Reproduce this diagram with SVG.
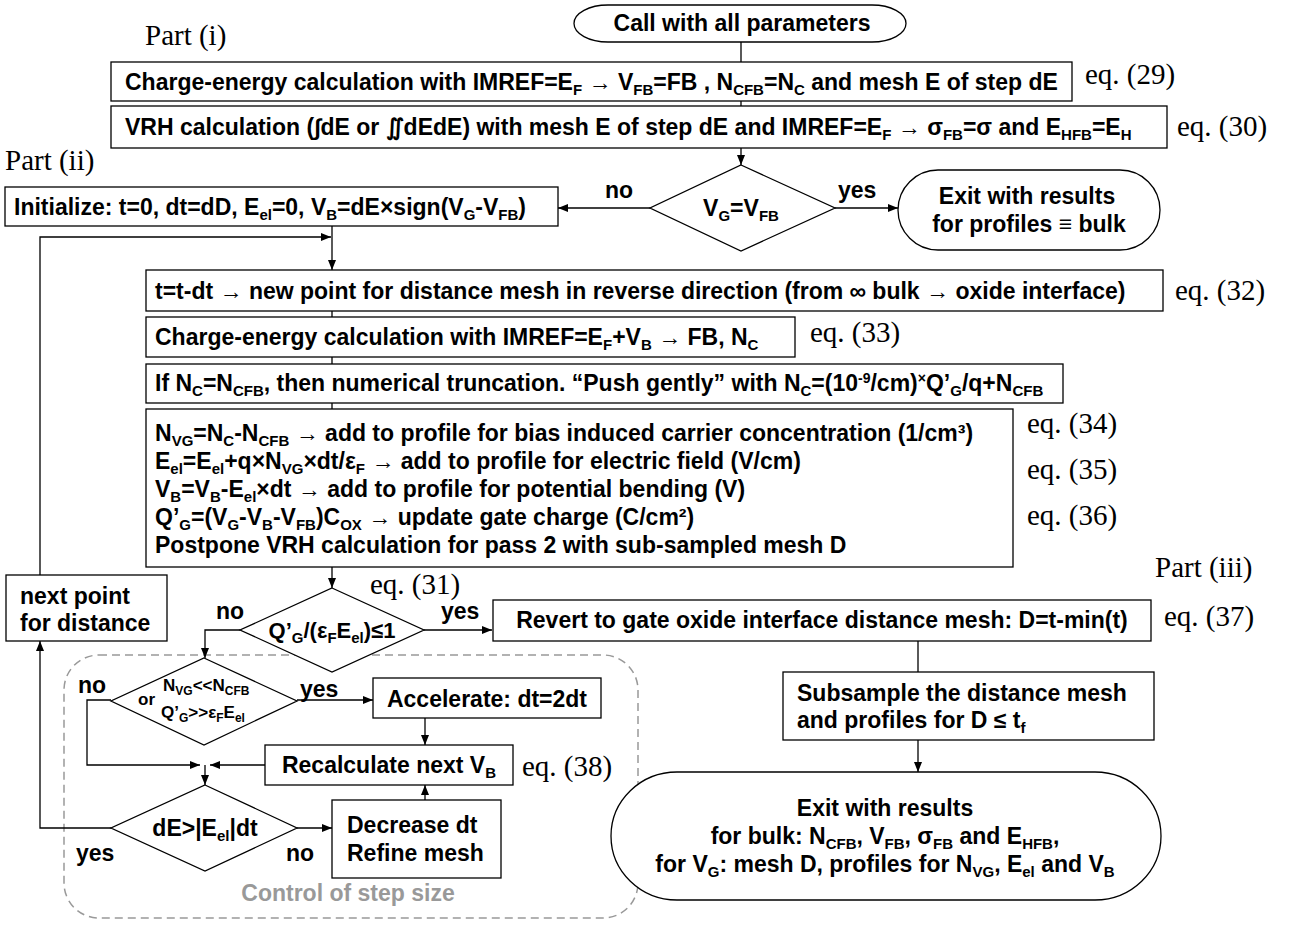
<svg xmlns="http://www.w3.org/2000/svg" width="1290" height="925" viewBox="0 0 1290 925">
<style>
text{font-family:"Liberation Sans",Arial,sans-serif;font-weight:bold;font-size:23px;fill:#000}
.s{font-size:15px;baseline-shift:-5px}
.p{font-size:14px;baseline-shift:8px}
.eq{font-family:"Liberation Serif","Times New Roman",serif;font-weight:normal;font-size:29px}
.m{text-anchor:middle}
.sm{font-size:17px}
.sm .s{font-size:12px;baseline-shift:-4px}
.md{font-size:22px}
.box{fill:#fff;stroke:#000;stroke-width:1.3}
.cn{fill:none;stroke:#000;stroke-width:1.3}
.gray{fill:#999}
</style>
<defs>
<marker id="ah" markerUnits="userSpaceOnUse" markerWidth="10" markerHeight="8" refX="10" refY="4" orient="auto">
<path d="M0,0 L10,4 L0,8 z" fill="#000"/>
</marker>
</defs>
<rect width="1290" height="925" fill="#fff"/>

<g id="labels">
<text class="eq" x="145" y="45">Part (i)</text>
<text class="eq" x="5" y="170">Part (ii)</text>
<text class="eq" x="1155" y="577">Part (iii)</text>
<text class="eq" x="1085" y="84">eq. (29)</text>
<text class="eq" x="1177" y="136">eq. (30)</text>
<text class="eq" x="1175" y="300">eq. (32)</text>
<text class="eq" x="810" y="342">eq. (33)</text>
<text class="eq" x="1027" y="433">eq. (34)</text>
<text class="eq" x="1027" y="479">eq. (35)</text>
<text class="eq" x="1027" y="525">eq. (36)</text>
<text class="eq" x="370" y="594">eq. (31)</text>
<text class="eq" x="1164" y="626">eq. (37)</text>
<text class="eq" x="522" y="776">eq. (38)</text>
<text x="605" y="198">no</text>
<text x="838" y="198">yes</text>
<text x="216" y="619">no</text>
<text x="441" y="619">yes</text>
<text x="78" y="693">no</text>
<text x="300" y="697">yes</text>
<text x="76" y="861">yes</text>
<text x="286" y="861">no</text>
</g>

<g id="step-size-region">
<rect x="64" y="655" width="574" height="263" rx="35" ry="35" fill="none" stroke="#999" stroke-width="1.5" stroke-dasharray="8,5"/>
<text class="m gray" x="348" y="901">Control of step size</text>
</g>

<g id="connectors">
<line class="cn" x1="741" y1="42" x2="741" y2="62"/>
<line class="cn" x1="741" y1="101" x2="741" y2="106"/>
<line class="cn" x1="741" y1="148" x2="741" y2="165" marker-end="url(#ah)"/>
<line class="cn" x1="650" y1="208" x2="558" y2="208" marker-end="url(#ah)"/>
<line class="cn" x1="835" y1="208" x2="898" y2="208" marker-end="url(#ah)"/>
<line class="cn" x1="332" y1="226" x2="332" y2="270" marker-end="url(#ah)"/>
<polyline class="cn" points="40,575 40,237 331,237" marker-end="url(#ah)"/>
<line class="cn" x1="332" y1="311" x2="332" y2="317"/>
<line class="cn" x1="332" y1="357" x2="332" y2="364"/>
<line class="cn" x1="332" y1="403" x2="332" y2="409"/>
<line class="cn" x1="332" y1="567" x2="332" y2="588" marker-end="url(#ah)"/>
<line class="cn" x1="424" y1="630" x2="492" y2="630" marker-end="url(#ah)"/>
<polyline class="cn" points="240,630 205,630 205,658" marker-end="url(#ah)"/>
<line class="cn" x1="297" y1="700" x2="373" y2="700" marker-end="url(#ah)"/>
<line class="cn" x1="425" y1="718" x2="425" y2="745" marker-end="url(#ah)"/>
<polyline class="cn" points="111,700 87,700 87,765 200,765" marker-end="url(#ah)"/>
<line class="cn" x1="265" y1="765" x2="210" y2="765" marker-end="url(#ah)"/>
<line class="cn" x1="205" y1="765" x2="205" y2="785" marker-end="url(#ah)"/>
<polyline class="cn" points="111,828 40,828 40,641" marker-end="url(#ah)"/>
<line class="cn" x1="297" y1="828" x2="332" y2="828" marker-end="url(#ah)"/>
<line class="cn" x1="425" y1="800" x2="425" y2="785" marker-end="url(#ah)"/>
<line class="cn" x1="918" y1="641" x2="918" y2="672"/>
<line class="cn" x1="918" y1="740" x2="918" y2="772" marker-end="url(#ah)"/>
</g>

<g id="start">
<rect class="box" x="574" y="5" width="332" height="37" rx="34" ry="18.5"/>
<text class="m" x="742" y="31">Call with all parameters</text>
</g>

<g id="charge-energy-bulk">
<rect class="box" x="111" y="62" width="961" height="39"/>
<text x="125" y="90">Charge-energy calculation with IMREF=E<tspan class="s">F</tspan> → V<tspan class="s">FB</tspan>=FB , N<tspan class="s">CFB</tspan>=N<tspan class="s">C</tspan> and mesh E of step dE</text>
</g>

<g id="vrh-bulk">
<rect class="box" x="111" y="106" width="1056" height="42"/>
<text x="125" y="135">VRH calculation (∫dE or ∬dEdE) with mesh E of step dE and IMREF=E<tspan class="s">F</tspan> → σ<tspan class="s">FB</tspan>=σ and E<tspan class="s">HFB</tspan>=E<tspan class="s">H</tspan></text>
</g>

<g id="decision-vg">
<polygon class="box" points="741,165 835,208 741,251 650,208"/>
<text class="m" x="741" y="216">V<tspan class="s">G</tspan>=V<tspan class="s">FB</tspan></text>
</g>

<g id="initialize">
<rect class="box" x="5" y="187" width="553" height="39"/>
<text x="14" y="215">Initialize: t=0, dt=dD, E<tspan class="s">el</tspan>=0, V<tspan class="s">B</tspan>=dE×sign(V<tspan class="s">G</tspan>-V<tspan class="s">FB</tspan>)</text>
</g>

<g id="exit-bulk">
<rect class="box" x="898" y="170" width="262" height="80" rx="40" ry="40"/>
<text class="m" x="1027" y="204">Exit with results</text>
<text class="m" x="1029" y="232">for profiles ≡ bulk</text>
</g>

<g id="new-point">
<rect class="box" x="146" y="270" width="1017" height="41"/>
<text x="155" y="299">t=t-dt → new point for distance mesh in reverse direction (from ∞ bulk → oxide interface)</text>
</g>

<g id="charge-energy-bias">
<rect class="box" x="146" y="317" width="649" height="40"/>
<text x="155" y="345">Charge-energy calculation with IMREF=E<tspan class="s">F</tspan>+V<tspan class="s">B</tspan> → FB, N<tspan class="s">C</tspan></text>
</g>

<g id="truncation">
<rect class="box" x="146" y="364" width="917" height="39"/>
<text x="155" y="391">If N<tspan class="s">C</tspan>=N<tspan class="s">CFB</tspan>, then numerical truncation. “Push gently” with N<tspan class="s">C</tspan>=(10<tspan class="p">-9</tspan>/cm)<tspan class="p">×</tspan>Q’<tspan class="s">G</tspan>/q+N<tspan class="s">CFB</tspan></text>
</g>

<g id="profiles">
<rect class="box" x="146" y="409" width="867" height="158"/>
<text x="155" y="441">N<tspan class="s">VG</tspan>=N<tspan class="s">C</tspan>-N<tspan class="s">CFB</tspan> → add to profile for bias induced carrier concentration (1/cm³)</text>
<text x="155" y="469">E<tspan class="s">el</tspan>=E<tspan class="s">el</tspan>+q×N<tspan class="s">VG</tspan>×dt/ε<tspan class="s">F</tspan> → add to profile for electric field (V/cm)</text>
<text x="155" y="497">V<tspan class="s">B</tspan>=V<tspan class="s">B</tspan>-E<tspan class="s">el</tspan>×dt → add to profile for potential bending (V)</text>
<text x="155" y="525">Q’<tspan class="s">G</tspan>=(V<tspan class="s">G</tspan>-V<tspan class="s">B</tspan>-V<tspan class="s">FB</tspan>)C<tspan class="s">OX</tspan> → update gate charge (C/cm²)</text>
<text x="155" y="553">Postpone VRH calculation for pass 2 with sub-sampled mesh D</text>
</g>

<g id="decision-gate-charge">
<polygon class="box" points="332,588 424,630 332,672 240,630"/>
<text class="m md" x="332" y="638">Q’<tspan class="s">G</tspan>/(ε<tspan class="s">F</tspan>E<tspan class="s">el</tspan>)≤1</text>
</g>

<g id="next-point">
<rect class="box" x="6" y="575" width="161" height="66"/>
<text x="20" y="604">next point</text>
<text x="20" y="631">for distance</text>
</g>

<g id="decision-accelerate">
<polygon class="box" points="204,658 297,701 204,745 111,701"/>
<text class="sm" x="163" y="691">N<tspan class="s">VG</tspan>&lt;&lt;N<tspan class="s">CFB</tspan></text>
<text class="sm" x="138" y="705">or</text>
<text class="sm" x="161" y="718">Q’<tspan class="s">G</tspan>&gt;&gt;ε<tspan class="s">F</tspan>E<tspan class="s">el</tspan></text>
</g>

<g id="accelerate">
<rect class="box" x="373" y="678" width="228" height="40"/>
<text class="m" x="487" y="707">Accelerate: dt=2dt</text>
</g>

<g id="recalculate">
<rect class="box" x="265" y="745" width="248" height="40"/>
<text class="m" x="389" y="773">Recalculate next V<tspan class="s">B</tspan></text>
</g>

<g id="decision-step">
<polygon class="box" points="205,785 297,828 205,871 111,828"/>
<text class="m" x="205" y="836">dE&gt;|E<tspan class="s">el</tspan>|dt</text>
</g>

<g id="decrease">
<rect class="box" x="332" y="800" width="169" height="78"/>
<text x="347" y="833">Decrease dt</text>
<text x="347" y="861">Refine mesh</text>
</g>

<g id="revert">
<rect class="box" x="493" y="600" width="658" height="41"/>
<text class="m" x="822" y="628">Revert to gate oxide interface distance mesh: D=t-min(t)</text>
</g>

<g id="subsample">
<rect class="box" x="783" y="672" width="371" height="68"/>
<text x="797" y="701">Subsample the distance mesh</text>
<text x="797" y="728">and profiles for D ≤ t<tspan class="s">f</tspan></text>
</g>

<g id="exit-results">
<rect class="box" x="611" y="772" width="550" height="128" rx="66" ry="64"/>
<text class="m" x="885" y="816">Exit with results</text>
<text class="m" x="885" y="844">for bulk: N<tspan class="s">CFB</tspan>, V<tspan class="s">FB</tspan>, σ<tspan class="s">FB</tspan> and E<tspan class="s">HFB</tspan>,</text>
<text class="m" x="885" y="872">for V<tspan class="s">G</tspan>: mesh D, profiles for N<tspan class="s">VG</tspan>, E<tspan class="s">el</tspan> and V<tspan class="s">B</tspan></text>
</g>
</svg>
